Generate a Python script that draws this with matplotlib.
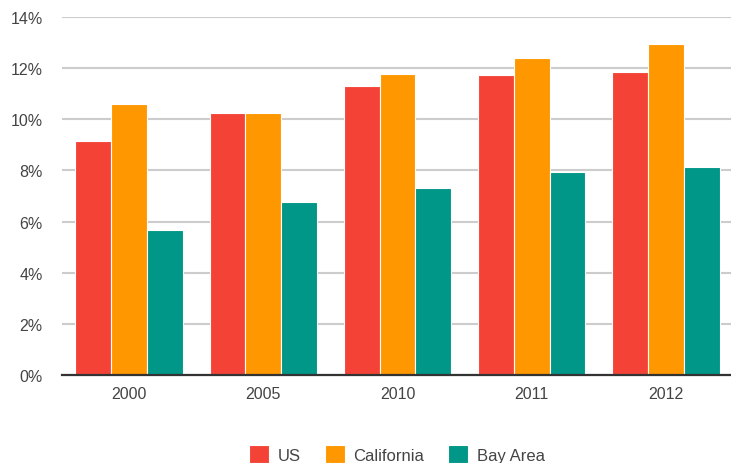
import matplotlib
matplotlib.use("Agg")
import matplotlib.pyplot as plt
import numpy as np
from matplotlib.ticker import FuncFormatter

plt.rcParams['font.family'] = ['Liberation Sans', 'DejaVu Sans']

years = ["2000", "2005", "2010", "2011", "2012"]
series_names = ["US", "California", "Bay Area"]
us = [9.15, 10.25, 11.3, 11.73, 11.85]
california = [10.6, 10.25, 11.77, 12.4, 12.94]
bay_area = [5.67, 6.77, 7.31, 7.94, 8.13]
colors = ["#F44336", "#FF9800", "#009688"]

fig = plt.figure(figsize=(7.31, 4.64), dpi=100)
ax = fig.add_axes([62/731, (464-376)/464, (733-62)/731, (376-18)/464])

x = np.arange(len(years))
w = 0.8 / 3
for i, (vals, name, c) in enumerate(zip([us, california, bay_area], series_names, colors)):
    ax.bar(x + (i - 1) * w, vals, width=w, color=c, edgecolor="white", linewidth=0.8, label=name, zorder=2)

ax.set_xlim(-0.5, len(years) - 0.5)
ax.set_ylim(0, 14)
ax.set_yticks(np.arange(0, 15, 2))
ax.yaxis.set_major_formatter(FuncFormatter(lambda v, p: f"{int(v)}%"))
ax.set_xticks(x)
ax.set_xticklabels(years)
ax.grid(axis="y", color="#cccccc", linewidth=1.5, zorder=0)
ax.set_axisbelow(True)
for s in ["top", "right", "left"]:
    ax.spines[s].set_visible(False)
ax.spines["bottom"].set_color("#333333")
ax.spines["bottom"].set_linewidth(1.6)
ax.spines["bottom"].set_zorder(3)
ax.tick_params(axis="both", length=0, labelsize=11.5, labelcolor="#444444")
ax.tick_params(axis="y", pad=14)
ax.tick_params(axis="x", pad=8)

leg = fig.legend(loc="center", bbox_to_anchor=(397/731, 1 - 455/464), ncol=3, frameon=False,
                 fontsize=12, handlelength=1.2, handleheight=1.2, columnspacing=1.45, handletextpad=0.5)
for t in leg.get_texts():
    t.set_color("#444444")

fig.savefig("out.png", dpi=100)
